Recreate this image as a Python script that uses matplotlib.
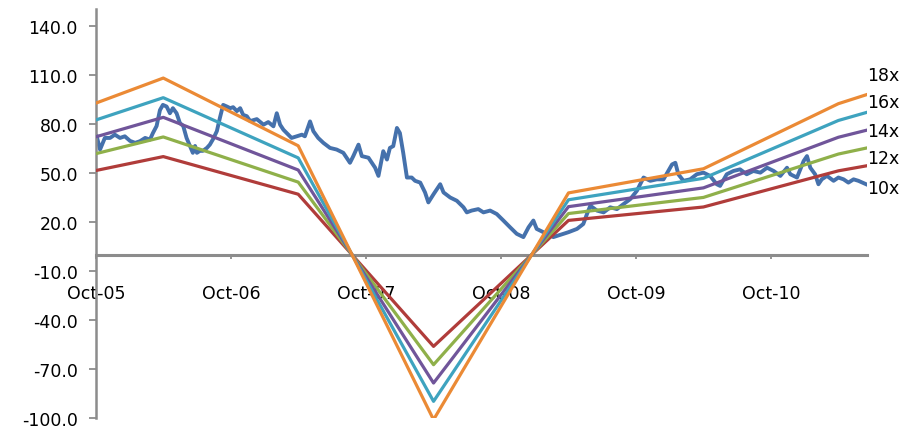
import matplotlib
matplotlib.use("Agg")
import matplotlib.pyplot as plt
import numpy as np
import pandas as pd

plt.rcParams["font.family"] = ["DejaVu Sans"]

# Share price (days after 1 Oct 2005, price)
start = pd.Timestamp("2005-10-01")
price_day = [2, 11, 24, 38, 51, 65, 78, 92, 106, 119, 133, 146, 154, 164, 173, 181,
             191, 200, 208, 218, 227, 236, 245, 254, 262, 268, 273, 281, 289, 300,
             308, 317, 327, 335, 344, 354, 363, 371, 381, 390, 398, 408, 417, 435,
             453, 466, 480, 489, 498, 507, 520, 529, 543, 557, 565, 579, 588, 601,
             615, 633, 651, 669, 687, 696, 710, 719, 737, 755, 764, 777, 787, 795,
             804, 814, 822, 831, 841, 854, 863, 877, 890, 899, 913, 931, 940, 958,
             976, 994, 1003, 1016, 1034, 1048, 1066, 1084, 1102, 1120, 1138, 1156,
             1170, 1183, 1192, 1210, 1237, 1264, 1278, 1301, 1318, 1328, 1337, 1355,
             1373, 1391, 1409, 1427, 1445, 1463, 1472, 1481, 1499, 1517, 1535, 1548,
             1558, 1567, 1575, 1589, 1607, 1625, 1643, 1661, 1679, 1688, 1706, 1724,
             1742, 1760, 1778, 1797, 1815, 1833, 1851, 1869, 1878, 1896, 1914, 1923,
             1932, 1945, 1954, 1963, 1977, 1995, 2008, 2022, 2035, 2049, 2062, 2083]
price = [72.4, 64.3, 71.4, 71.4, 73.4, 71.4, 72.4, 69.6, 68.4, 69.4, 71.4, 70.4, 74.4,
         78.7, 88.4, 91.6, 90.6, 86.5, 89.6, 86.5, 80.5, 78.7, 71.4, 66.5, 62.3, 66.5,
         62.3, 63.5, 63.5, 65.3, 67.3, 70.8, 75.6, 83.5, 91.6, 90.6, 89.6, 90.2, 87.8,
         89.6, 85.5, 84.7, 81.7, 82.9, 79.5, 81.1, 78.5, 86.5, 79.5, 76.4, 73.4, 71.4,
         72.4, 73.4, 72.4, 81.5, 75.5, 71.4, 68.4, 65.3, 64.3, 62.3, 56.2, 60.3, 67.3,
         60.3, 59.3, 53.2, 48.2, 63.3, 58.2, 65.3, 66.4, 77.5, 74.4, 62.3, 47.2, 47.2,
         45.2, 44.1, 38.1, 32.0, 37.0, 43.1, 38.1, 35.0, 33.0, 29.0, 25.9, 27.0, 27.9,
         25.9, 27.0, 24.9, 20.9, 16.8, 12.8, 10.8, 16.8, 20.9, 15.8, 13.8, 10.8, 12.8,
         13.8, 15.8, 18.8, 24.9, 30.0, 27.0, 25.9, 29.0, 27.9, 31.0, 34.0, 39.1, 43.1,
         47.2, 45.2, 46.1, 46.1, 51.2, 55.2, 56.2, 49.2, 45.2, 46.1, 49.2, 50.2, 48.2,
         43.1, 42.1, 49.2, 51.2, 52.2, 49.2, 51.2, 50.2, 53.2, 51.2, 48.2, 53.2, 49.2,
         47.2, 57.3, 60.3, 53.2, 49.2, 43.1, 46.1, 48.2, 45.2, 47.2, 46.1, 44.1, 46.1,
         45.2, 43.1]

# Earnings per share used for the P/E bands
eps_dates = ["2005-10-01", "2006-04-01", "2007-04-01", "2008-04-01",
             "2009-04-01", "2010-04-01", "2011-04-01", "2011-06-17"]
eps = [5.15, 6.0, 3.7, -5.6, 2.1, 2.92, 5.13, 5.44]

multiples = [10, 12, 14, 16, 18]
band_labels = ["10x", "12x", "14x", "16x", "18x"]
band_colors = ["#B03C3A", "#8FB04A", "#70559A", "#3EA3BF", "#EB8A35"]
label_levels = [40.6, 59.3, 75.8, 93.6, 109.8]

yticks = np.arange(-100, 141, 30)
xtick_dates = ["2005-10-01", "2006-10-01", "2007-10-01", "2008-10-01",
               "2009-10-01", "2010-10-01"]
xtick_labels = ["Oct-05", "Oct-06", "Oct-07", "Oct-08", "Oct-09", "Oct-10"]

price_dates = start + pd.to_timedelta(price_day, unit="D")
eps_dt = pd.to_datetime(eps_dates)

fig = plt.figure(figsize=(9.08, 4.31), dpi=100)
ax = fig.add_axes([0.1057, 0.027, 0.849, 0.949])

axis_grey = "#8C8C8C"
ax.plot(price_dates, price, color="#4571AC", lw=2.8, solid_joinstyle="round", zorder=2)
for m, c in zip(multiples, band_colors):
    ax.plot(eps_dt, [e * m for e in eps], color=c, lw=2.3, zorder=3)

ax.set_xlim(pd.Timestamp("2005-10-01"), pd.Timestamp("2011-06-17"))
ax.set_ylim(-100, 150)

ax.set_yticks(yticks)
ax.set_yticklabels([f"{v:.1f}" for v in yticks])
ax.set_xticks(pd.to_datetime(xtick_dates))
ax.set_xticklabels(xtick_labels)

for s in ["top", "right"]:
    ax.spines[s].set_visible(False)
ax.spines["bottom"].set_position(("data", 0))
ax.spines["bottom"].set_color(axis_grey)
ax.spines["bottom"].set_linewidth(2.2)
ax.spines["left"].set_color(axis_grey)
ax.spines["left"].set_linewidth(1.8)
ax.tick_params(axis="y", direction="out", length=5, width=1.3, color=axis_grey,
               pad=8, labelsize=12.5)
ax.tick_params(axis="x", direction="out", length=3, width=1.3, color=axis_grey,
               pad=18, labelsize=12.5)

end = pd.Timestamp("2011-06-17")
for lab, lev in zip(band_labels, label_levels):
    ax.text(end, lev, lab, fontsize=12.5, ha="left", va="center", clip_on=False)

fig.savefig("out.png", dpi=100)
